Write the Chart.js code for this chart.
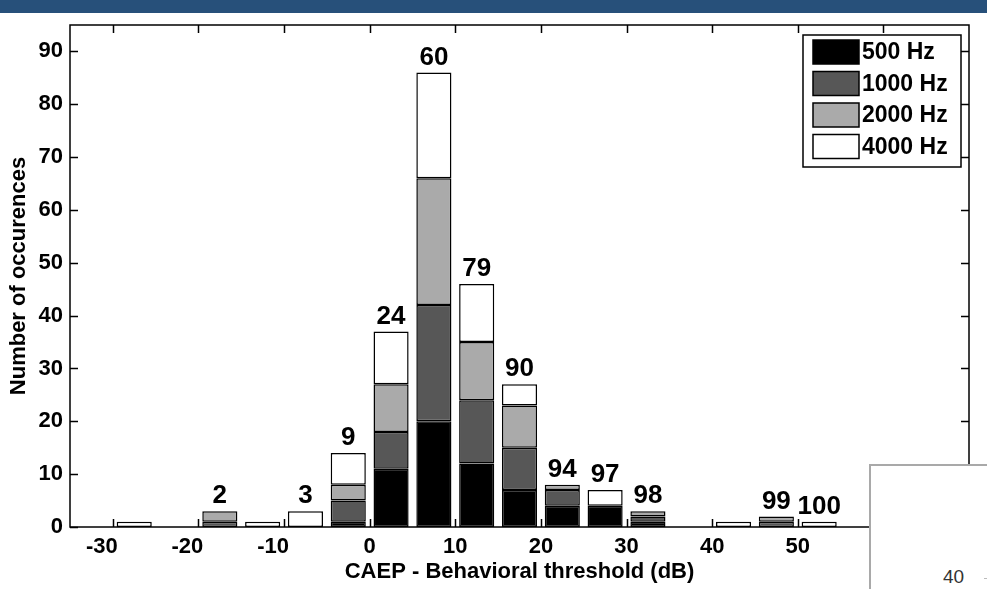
<!DOCTYPE html>
<html>
<head>
<meta charset="utf-8">
<script src="https://cdn.jsdelivr.net/npm/chart.js@4.4.0/dist/chart.umd.min.js"></script>
<style>
  html, body { margin: 0; padding: 0; background: #fff; }
  #wrap { position: relative; width: 987px; height: 589px; overflow: hidden; }
  #topBar { position: absolute; left: 0; top: 0; width: 987px; height: 13px; background: #27507a; }
  #chart { position: absolute; left: 0; top: 0; }
  #slideBox { position: absolute; left: 869px; top: 464px; width: 140px; height: 140px; background: #fff;
    border: 2px solid #a9a9a9; box-sizing: border-box; }
  #slideBox span { position: absolute; left: 72px; top: 100px; font: 19px 'Liberation Sans', Arial, sans-serif; color: #333; }
  #slideBox i { position: absolute; left: 113px; top: 112px; width: 6px; height: 1px; background: #bbb; }
</style>
</head>
<body>
<div id="wrap">
  <canvas id="chart" width="987" height="589"></canvas>
  <div id="topBar"></div>
  <div id="slideBox"><span>40</span><i></i></div>
</div>
<script>
// bin centres (dB), 5 dB wide bins
const binCenters = [-27.5, -22.5, -17.5, -12.5, -7.5, -2.5, 2.5, 7.5, 12.5, 17.5, 22.5, 27.5, 32.5, 37.5, 42.5, 47.5, 52.5];

// counts per frequency, stacked bottom -> top
const hz500  = [0, 0, 0, 0, 0, 1, 11, 20, 12, 7, 4, 4, 1, 0, 0, 0, 0];
const hz1000 = [0, 0, 1, 0, 0, 4, 7, 22, 12, 8, 3, 0, 1, 0, 0, 1, 0];
const hz2000 = [0, 0, 2, 0, 0, 3, 9, 24, 11, 8, 1, 0, 1, 0, 0, 1, 0];
const hz4000 = [1, 0, 0, 1, 3, 6, 10, 20, 11, 4, 0, 3, 0, 0, 1, 0, 1];

// cumulative % written above the bars
const pctLabels = ['', '', '2', '', '3', '9', '24', '60', '79', '90', '94', '97', '98', '', '', '99', '100'];

const seriesNames = ['500 Hz', '1000 Hz', '2000 Hz', '4000 Hz'];
const seriesColors = ['#000000', '#575757', '#aaaaaa', '#ffffff'];

const xTicks = [-30, -20, -10, 0, 10, 20, 30, 40, 50, 60];
const yTicks = [0, 10, 20, 30, 40, 50, 60, 70, 80, 90];

const xTitle = 'CAEP - Behavioral threshold (dB)';
const yTitle = 'Number of occurences';

const FONT = "'Liberation Sans', Arial, sans-serif";

function toPoints(vals) {
  return vals.map((v, i) => ({ x: binCenters[i], y: v }));
}

const seriesValues = [hz500, hz1000, hz2000, hz4000];
const datasets = seriesValues.map((vals, k) => ({
  label: seriesNames[k],
  data: toPoints(vals),
  backgroundColor: seriesColors[k],
  borderColor: '#000',
  borderWidth: 1.5,
  borderSkipped: false,
  barPercentage: 0.82,
  categoryPercentage: 1.0
}));

// box, inward ticks and the in-plot legend (MATLAB look)
const framePlugin = {
  id: 'frame',
  afterDatasetsDraw(chart) {
    const { ctx, chartArea: a, scales: { x, y } } = chart;
    const tl = 8;
    ctx.save();
    ctx.strokeStyle = '#000';
    ctx.lineWidth = 1.5;
    ctx.strokeRect(a.left, a.top, a.right - a.left, a.bottom - a.top);
    ctx.beginPath();
    xTicks.forEach(v => {
      const px = Math.round(x.getPixelForValue(v)) + 0.5;
      ctx.moveTo(px, a.bottom); ctx.lineTo(px, a.bottom - tl);
      ctx.moveTo(px, a.top); ctx.lineTo(px, a.top + tl);
    });
    yTicks.forEach(v => {
      const py = Math.round(y.getPixelForValue(v)) + 0.5;
      ctx.moveTo(a.left, py); ctx.lineTo(a.left + tl, py);
      ctx.moveTo(a.right, py); ctx.lineTo(a.right - tl, py);
    });
    ctx.stroke();

    // legend box
    const lx = a.right - 166, ly = a.top + 10, lw = 158, lh = 132;
    ctx.fillStyle = '#fff';
    ctx.fillRect(lx, ly, lw, lh);
    ctx.strokeRect(lx, ly, lw, lh);
    ctx.font = 'bold 23px ' + FONT;
    ctx.textBaseline = 'middle';
    ctx.textAlign = 'left';
    chart.data.datasets.forEach((ds, k) => {
      const cy = ly + 17 + k * 31.5;
      ctx.fillStyle = ds.backgroundColor;
      ctx.fillRect(lx + 10, cy - 12, 46, 24);
      ctx.strokeRect(lx + 10, cy - 12, 46, 24);
      ctx.fillStyle = '#000';
      ctx.fillText(ds.label, lx + 59, cy + 1);
    });
    ctx.restore();
  }
};

// cumulative percentage above each stack
const pctPlugin = {
  id: 'pctLabels',
  afterDatasetsDraw(chart) {
    const { ctx } = chart;
    const topMeta = chart.getDatasetMeta(chart.data.datasets.length - 1);
    ctx.save();
    ctx.font = 'bold 26px ' + FONT;
    ctx.fillStyle = '#000';
    ctx.textAlign = 'center';
    ctx.textBaseline = 'bottom';
    pctLabels.forEach((txt, i) => {
      if (!txt) return;
      const bar = topMeta.data[i];
      ctx.fillText(txt, bar.x, bar.y - 2);
    });
    ctx.restore();
  }
};

new Chart(document.getElementById('chart'), {
  type: 'bar',
  data: { datasets: datasets },
  options: {
    responsive: false,
    animation: false,
    layout: { padding: { top: 25, right: 18, left: 0, bottom: 0 } },
    plugins: {
      legend: { display: false },
      tooltip: { enabled: false }
    },
    scales: {
      x: {
        type: 'linear',
        stacked: true,
        offset: false,
        min: -35,
        max: 70,
        grid: { display: false, drawTicks: false, offset: false },
        border: { display: false },
        afterBuildTicks: s => { s.ticks = xTicks.map(v => ({ value: v })); },
        afterFit: s => { s.height = 62; },
        ticks: {
          padding: 7,
          color: '#000',
          maxRotation: 0,
          font: { family: FONT, size: 22, weight: 'bold' },
          // MATLAB leaves negative labels sitting left of their tick
          callback: v => v < 0 ? v + '\u2002\u2002' : String(v)
        },
        title: {
          display: true,
          text: xTitle,
          color: '#000',
          font: { family: FONT, size: 22, weight: 'bold' },
          padding: { top: 0, bottom: 4 }
        }
      },
      y: {
        stacked: true,
        min: 0,
        max: 95,
        grid: { display: false, drawTicks: false },
        border: { display: false },
        afterBuildTicks: s => { s.ticks = yTicks.map(v => ({ value: v })); },
        afterFit: s => { s.width = 70; },
        ticks: {
          padding: 7,
          color: '#000',
          font: { family: FONT, size: 22, weight: 'bold' }
        },
        title: {
          display: true,
          text: yTitle,
          color: '#000',
          font: { family: FONT, size: 22, weight: 'bold' },
          padding: { top: 6, bottom: 0 }
        }
      }
    }
  },
  plugins: [framePlugin, pctPlugin]
});
</script>
</body>
</html>
